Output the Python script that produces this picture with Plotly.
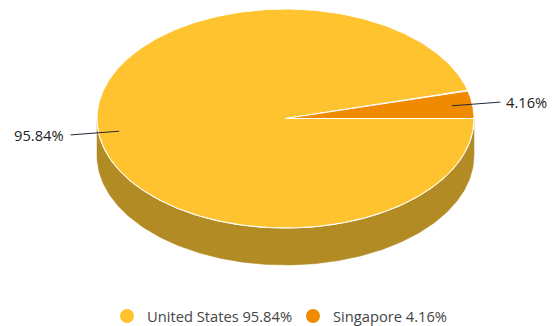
import numpy as np
import plotly.graph_objects as go

# Share of traffic by country
countries = ["United States", "Singapore"]
shares = [95.84, 4.16]
top_colors = ["#FEC32E", "#F08A00"]
side_colors = ["#B38B24", "#A35E00"]

W, H = 558, 326
cx, cy = 285.5, 118.5      # centre of the top face (pixels)
rx, ry = 188.5, 109.5      # radii of the top face
depth = 37                 # thickness of the disc
FONT = "Open Sans"


def ell(t, r=1.0, dy=0.0):
    t = np.radians(t)
    return cx + r * rx * np.cos(t), cy - r * ry * np.sin(t) + dy


fig = go.Figure()

# slices run clockwise starting at the east point
total = sum(shares)
bounds = []
start = 0.0
for v in shares:
    end = start - v / total * 360.0
    bounds.append((start, end))
    start = end

# side wall: only the front half (-180..0 degrees) is visible
for (a0, a1), col in zip(bounds, side_colors):
    lo, hi = max(min(a0, a1), -180.0), min(max(a0, a1), 0.0)
    if hi <= lo:
        continue
    t = np.linspace(lo, hi, 200)
    x1, y1 = ell(t)
    x2, y2 = ell(t[::-1], dy=depth)
    fig.add_trace(go.Scatter(
        x=np.r_[x1, x2, x1[:1]], y=np.r_[y1, y2, y1[:1]],
        mode="lines", fill="toself", fillcolor=col,
        line=dict(color=col, width=0.5), hoverinfo="skip", showlegend=False))

# white rim between top face and wall
t = np.linspace(-180, 0, 300)
xr, yr = ell(t)
fig.add_trace(go.Scatter(x=xr, y=yr, mode="lines",
                         line=dict(color="white", width=1.2),
                         hoverinfo="skip", showlegend=False))

# top faces
for (a0, a1), col, name in zip(bounds, top_colors, countries):
    t = np.linspace(a0, a1, 400)
    xa, ya = ell(t)
    fig.add_trace(go.Scatter(
        x=np.r_[cx, xa, cx], y=np.r_[cy, ya, cy],
        mode="lines", fill="toself", fillcolor=col,
        line=dict(color="white", width=1), hoverinfo="skip",
        showlegend=False, name=name))

# labels with leader lines
for (a0, a1), v in zip(bounds, shares):
    mid = (a0 + a1) / 2.0
    xi, yi = ell(mid, r=0.89)
    xo, yo = ell(mid, r=1.15)
    fig.add_trace(go.Scatter(x=[xi, xo], y=[yi, yo], mode="lines",
                             line=dict(color="#1f2b38", width=1),
                             hoverinfo="skip", showlegend=False))
    left = np.cos(np.radians(mid)) < 0
    fig.add_annotation(x=xo + (-5 if left else 4), y=yo, text=f"{v:.2f}%",
                       showarrow=False, xanchor="right" if left else "left",
                       yanchor="middle",
                       font=dict(family=FONT, size=14.7, color="#222222"))

# legend row along the bottom
leg_y = 316
leg_x = [127, 313]
for name, v, col, lx in zip(countries, shares, top_colors, leg_x):
    fig.add_trace(go.Scatter(x=[lx], y=[leg_y], mode="markers",
                             marker=dict(symbol="circle", size=14, color=col,
                                         line=dict(width=0)),
                             hoverinfo="skip", showlegend=False))
    fig.add_annotation(x=lx + 18, y=leg_y, text=f"{name} {v:.2f}%",
                       showarrow=False, xanchor="left", yanchor="middle",
                       font=dict(family=FONT, size=14.7, color="#444444"))

fig.update_layout(
    width=W, height=H, margin=dict(l=0, r=0, t=0, b=0),
    paper_bgcolor="white", plot_bgcolor="white",
    xaxis=dict(range=[0, W], visible=False, fixedrange=True),
    yaxis=dict(range=[H, 0], visible=False, fixedrange=True),
    showlegend=False,
)

fig.write_html("out.html")
